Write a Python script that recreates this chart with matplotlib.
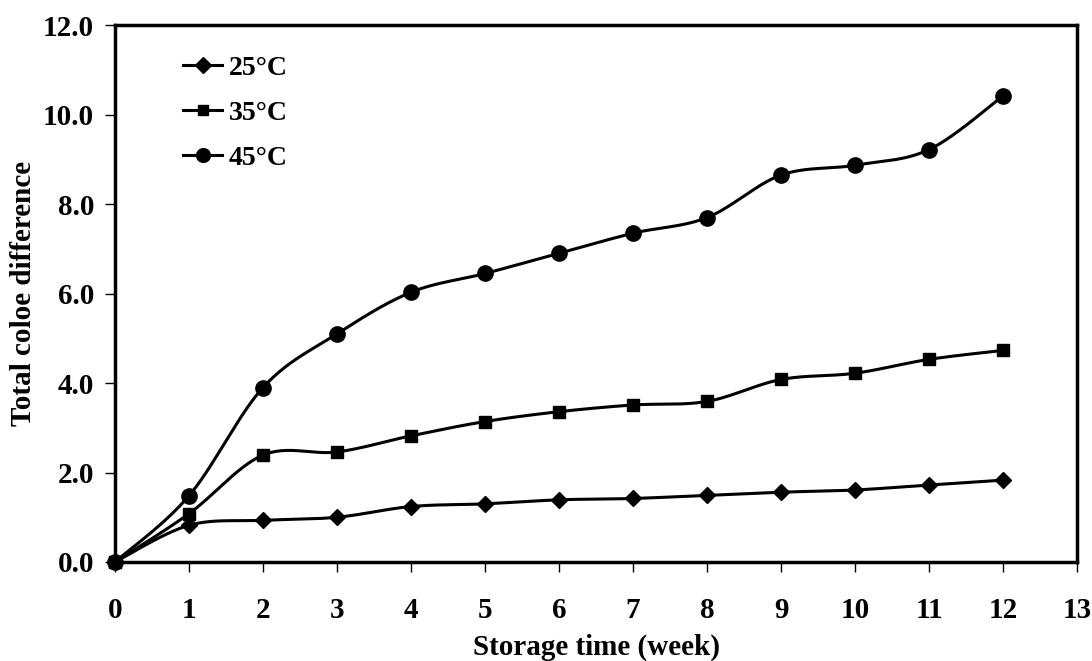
import numpy as np
import matplotlib
matplotlib.use("Agg")
import matplotlib.pyplot as plt
from matplotlib.lines import Line2D

weeks = [0, 1, 2, 3, 4, 5, 6, 7, 8, 9, 10, 11, 12]
t25 = [0.0, 0.82, 0.93, 1.0, 1.24, 1.30, 1.39, 1.42, 1.49, 1.56, 1.61, 1.72, 1.83]
t35 = [0.0, 1.08, 2.39, 2.46, 2.82, 3.14, 3.36, 3.51, 3.59, 4.08, 4.22, 4.53, 4.73]
t45 = [0.0, 1.48, 3.90, 5.10, 6.03, 6.45, 6.90, 7.35, 7.70, 8.65, 8.87, 9.22, 10.42]
labels = ["25\u00b0C", "35\u00b0C", "45\u00b0C"]
markers = ["D", "s", "o"]
msizes = [8.5, 8.5, 11]

plt.rcParams['font.family'] = ['Liberation Serif', 'DejaVu Serif']
plt.rcParams['font.weight'] = 'bold'


def smooth(x, y, n=30):
    # Catmull-Rom style Bezier smoothing (like spreadsheet smoothed lines)
    x = np.asarray(x, float); y = np.asarray(y, float)
    px = np.concatenate([[x[0]], x, [x[-1]]])
    py = np.concatenate([[y[0]], y, [y[-1]]])
    xs, ys = [], []
    t = np.linspace(0, 1, n)
    for i in range(1, len(px) - 2):
        p0 = np.array([px[i], py[i]]); p3 = np.array([px[i + 1], py[i + 1]])
        p1 = p0 + (np.array([px[i + 1], py[i + 1]]) - np.array([px[i - 1], py[i - 1]])) / 6
        p2 = p3 - (np.array([px[i + 2], py[i + 2]]) - np.array([px[i], py[i]])) / 6
        b = ((1 - t) ** 3)[:, None] * p0 + (3 * (1 - t) ** 2 * t)[:, None] * p1 + \
            (3 * (1 - t) * t ** 2)[:, None] * p2 + (t ** 3)[:, None] * p3
        xs.append(b[:, 0]); ys.append(b[:, 1])
    return np.concatenate(xs), np.concatenate(ys)


fig = plt.figure(figsize=(10.92, 6.61), dpi=100)
ax = fig.add_axes([0.1053, 0.1498, 0.881, 0.812])

handles = []
for ys, lab, m, ms in zip([t25, t35, t45], labels, markers, msizes):
    sx, sy = smooth(weeks, ys)
    ax.plot(sx, sy, color='black', lw=2.2, clip_on=False, zorder=3)
    ax.plot(weeks, ys, linestyle='none', marker=m, ms=ms, color='black', clip_on=False, zorder=4)
    handles.append(Line2D([0], [0], color='black', lw=2.2, marker=m, ms=ms * 0.9))

ax.set_xlim(0, 13)
ax.set_ylim(0, 12)
ax.set_xticks(range(0, 14))
ax.set_yticks(np.arange(0, 12.1, 2))
ax.set_yticklabels([f"{v:.1f}" for v in np.arange(0, 12.1, 2)])
ax.tick_params(axis='both', direction='out', length=7, width=1, labelsize=21)
ax.tick_params(axis='x', pad=18)
ax.tick_params(axis='y', pad=8)
for s in ax.spines.values():
    s.set_linewidth(2.5)

ax.set_xlabel("Storage time (week)", fontsize=21, fontweight='bold', labelpad=7)
ax.set_ylabel("Total coloe difference", fontsize=21, fontweight='bold', labelpad=4)

leg = ax.legend(handles, labels, loc='upper left', bbox_to_anchor=(0.045, 0.99), frameon=False,
                fontsize=20, handlelength=1.4, handletextpad=0.25, labelspacing=0.7)
for t in leg.get_texts():
    t.set_fontweight('bold')

fig.savefig("out.png", dpi=100)
